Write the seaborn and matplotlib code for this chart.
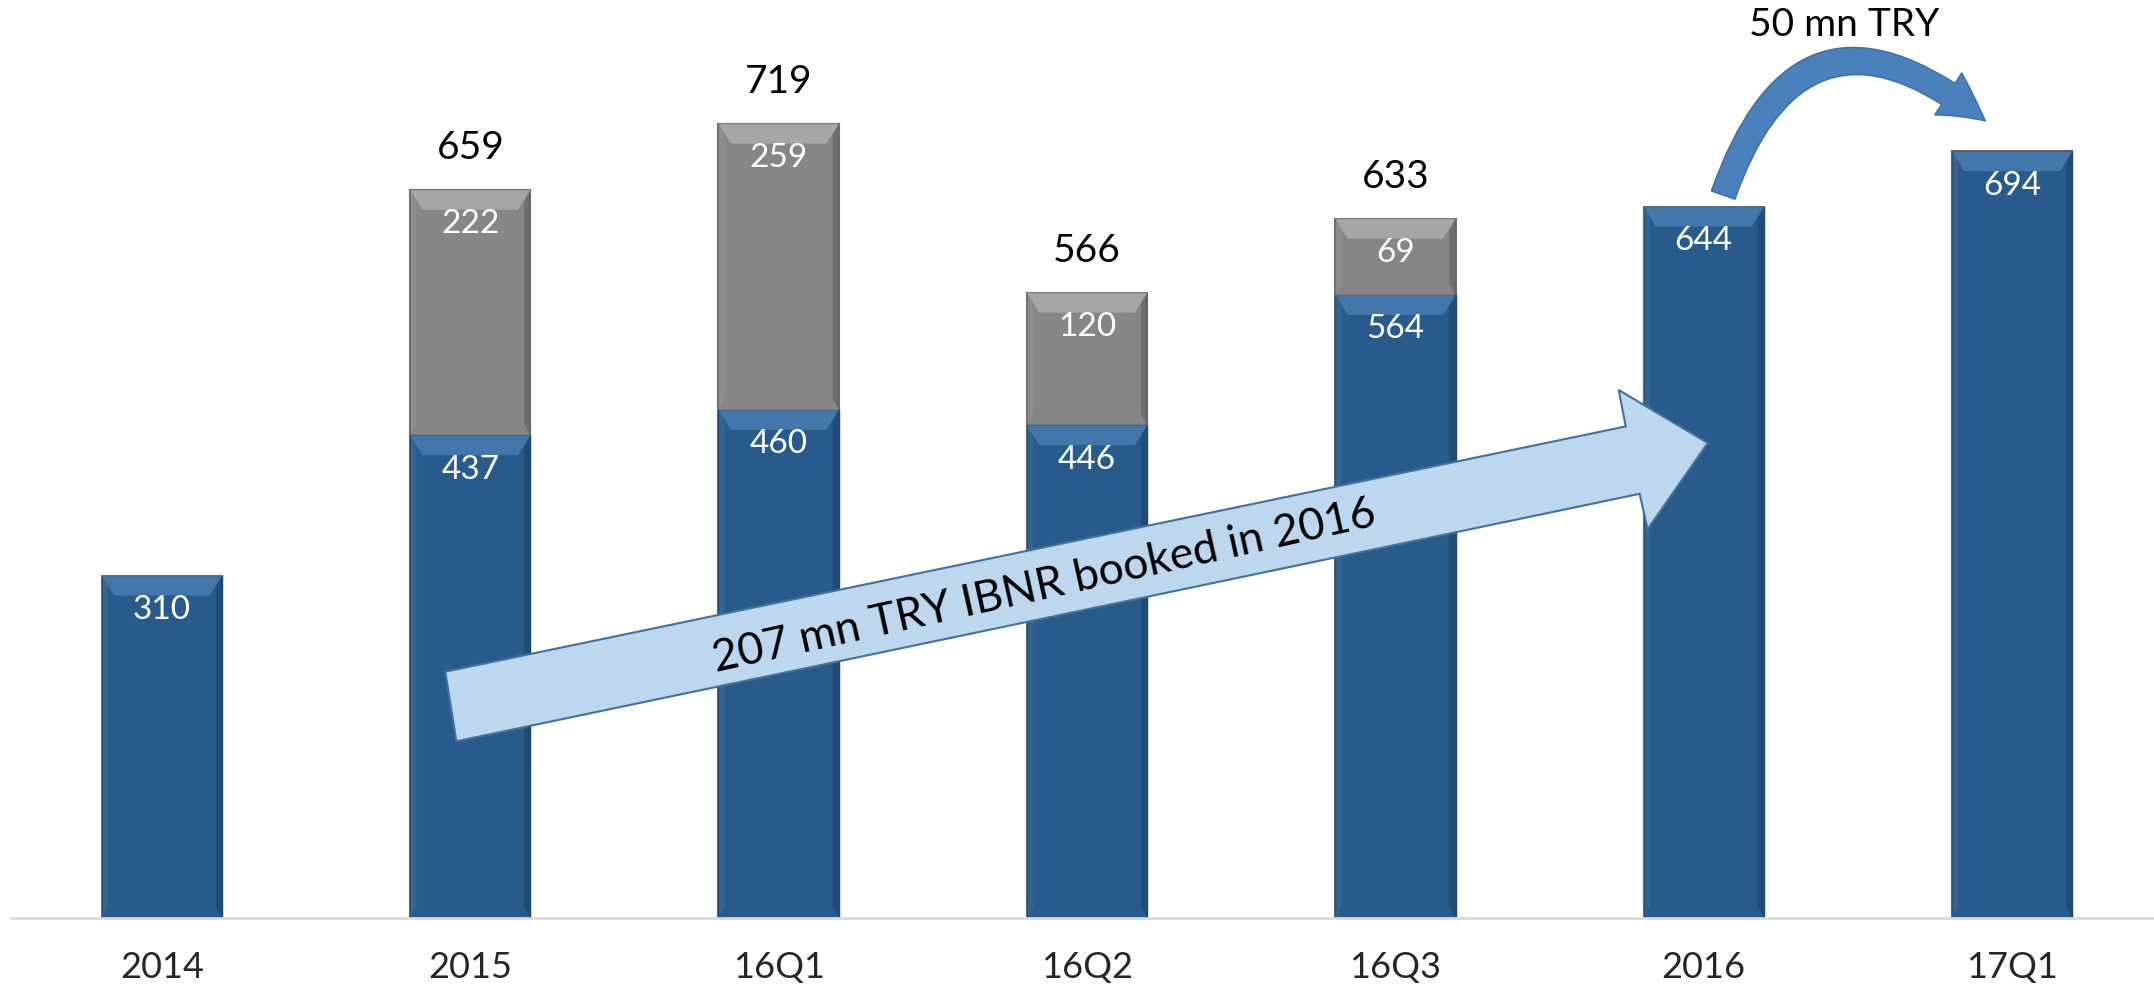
import matplotlib
matplotlib.use("Agg")
import matplotlib.pyplot as plt
import seaborn as sns
from matplotlib.patches import Polygon, FancyArrowPatch

# Chart data
periods = ["2014", "2015", "16Q1", "16Q2", "16Q3", "2016", "17Q1"]
reserves = [310, 437, 460, 446, 564, 644, 694]
ibnr = [0, 222, 259, 120, 69, 0, 0]
totals = [r + i for r, i in zip(reserves, ibnr)]

blue = "#285b8b"
gray = "#868686"

sns.set_style("white")
plt.rcParams["font.family"] = ["Lato", "DejaVu Sans"]

fig = plt.figure(figsize=(21.54, 9.9), dpi=100)
ax = fig.add_axes([0.005, 0.0727, 0.995, 0.9273])

bar_w = 0.39
# gray totals first, blue reserves drawn over them
sns.barplot(x=periods, y=totals, color=gray, width=bar_w, saturation=1,
            edgecolor="#6e6e6e", linewidth=1.5, ax=ax)
sns.barplot(x=periods, y=reserves, color=blue, width=bar_w, saturation=1,
            edgecolor="#1f4a73", linewidth=1.0, ax=ax)


# soft bevel on top of a segment, plus a darker right edge
def bevel(x0, top, bottom, light, dark):
    d = 0.04
    h = 18
    ax.add_patch(Polygon([(x0, top), (x0 + bar_w, top), (x0 + bar_w - d, top - h), (x0 + d, top - h)],
                         closed=True, facecolor=light, edgecolor="none", alpha=0.7, zorder=3))
    ax.add_patch(Polygon([(x0 + bar_w, top), (x0 + bar_w, bottom), (x0 + bar_w - 0.02, bottom + 10),
                          (x0 + bar_w - 0.02, top - 10)],
                         closed=True, facecolor=dark, edgecolor="none", alpha=0.35, zorder=3))
    ax.add_patch(Polygon([(x0, top), (x0, bottom), (x0 + 0.02, bottom + 10), (x0 + 0.02, top - 10)],
                         closed=True, facecolor="white", edgecolor="none", alpha=0.06, zorder=3))


for i, (r, g) in enumerate(zip(reserves, ibnr)):
    x0 = i - bar_w / 2
    bevel(x0, r, 0, "#4f83bb", "#14324f")
    ax.text(i, r - 31, str(r), ha="center", va="center", color="white", fontsize=24, zorder=5)
    if g > 0:
        bevel(x0, r + g, r, "#b4b4b4", "#444444")
        ax.text(i, r + g - 31, str(g), ha="center", va="center", color="white", fontsize=24, zorder=5)
        ax.text(i, r + g + 38, str(r + g), ha="center", va="center", color="black", fontsize=28, zorder=5)

# big trend arrow
arrow_pts = [(0.919, 223), (4.747, 445), (4.724, 478), (5.013, 430),
             (4.818, 352), (4.792, 384), (0.955, 160)]
ax.add_patch(Polygon(arrow_pts, closed=True, facecolor="#bdd7ee", edgecolor="#41719c",
                     linewidth=1.5, zorder=6))
ax.text(2.86, 300, "207 mn TRY IBNR booked in 2016", ha="center", va="center",
        rotation=12.5, fontsize=32, color="black", zorder=7)

# curved arrow 2016 -> 17Q1
curve = FancyArrowPatch((5.06, 652), (5.92, 720),
                        connectionstyle="arc3,rad=-0.72",
                        arrowstyle="simple,head_width=24,head_length=22,tail_width=12",
                        mutation_scale=1.5, facecolor="#4a80bb", edgecolor="#3a6ea5",
                        linewidth=1, zorder=6)
ax.add_patch(curve)
ax.text(5.455, 808, "50 mn TRY", ha="center", va="center", fontsize=28, color="black")

ax.set_xlim(-0.49, 6.46)
ax.set_ylim(0, 831)
ax.set_yticks([])
ax.set_xlabel("")
ax.set_ylabel("")
for s in ["top", "right", "left"]:
    ax.spines[s].set_visible(False)
ax.spines["bottom"].set_color("#d9d9d9")
ax.spines["bottom"].set_linewidth(2)
ax.tick_params(axis="x", length=0, pad=24, labelsize=26)

fig.savefig("out.png", dpi=100)
